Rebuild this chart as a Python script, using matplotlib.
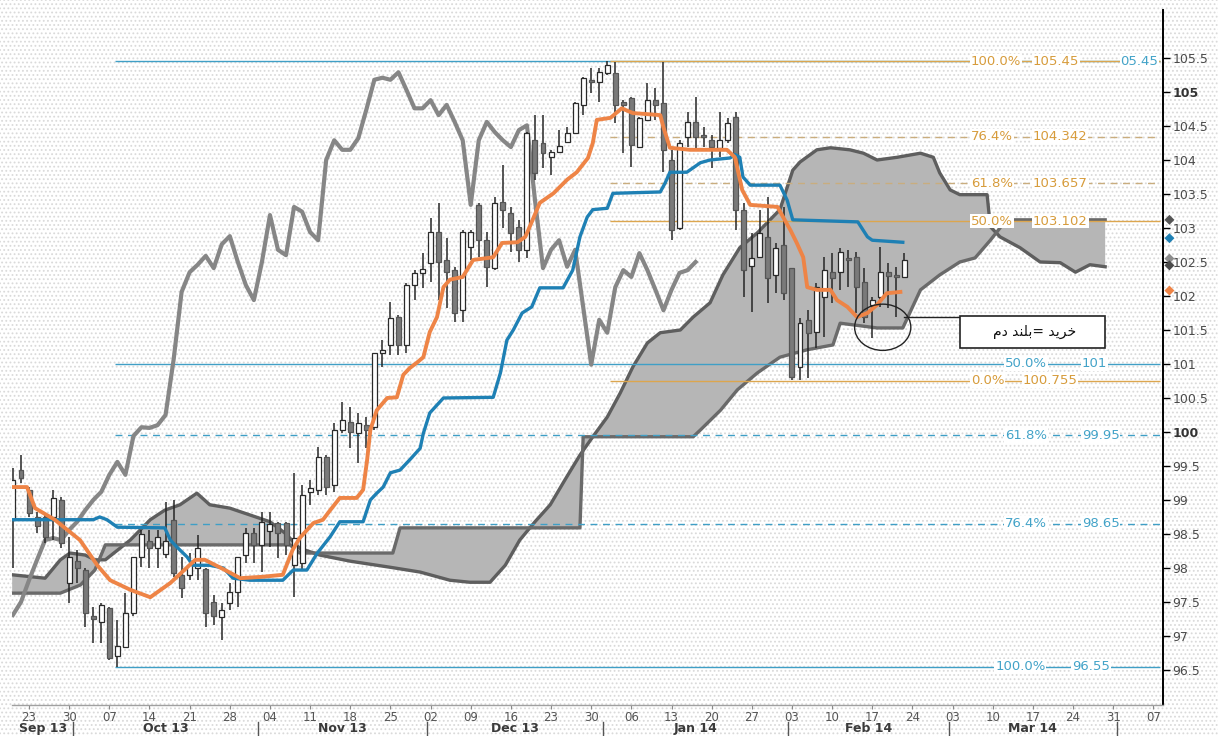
import numpy as np
import pandas as pd
import matplotlib
matplotlib.use("Agg")
import matplotlib.pyplot as plt
from matplotlib.patches import Rectangle, Ellipse

plt.rcParams["font.family"] = ["DejaVu Sans"]
plt.rcParams["hatch.linewidth"] = 0.8

# -----------------------------
# Data
# -----------------------------
days = pd.bdate_range("2013-09-19", "2014-04-11")   # trading days on the axis
pos = np.arange(len(days)) - 2                       # 0 = Mon 23 Sep 2013

c_open = [98.70, 99.44, 99.15, 98.75, 98.75, 98.75, 99.00, 97.78, 98.10, 97.97,
          97.30, 97.21, 97.41, 96.71, 96.84, 97.34, 98.16, 98.40, 98.30, 98.20,
          98.71, 97.90, 97.90, 98.00, 97.99, 97.50, 97.28, 97.49, 97.65, 98.19,
          98.51, 98.34, 98.55, 98.66, 98.66, 98.04, 98.07, 99.12, 99.15, 99.63,
          99.22, 100.03, 100.15, 99.99, 100.10, 100.07, 101.16, 101.28, 101.69, 101.28,
          102.16, 102.34, 102.49, 102.94, 102.53, 102.38, 101.79, 102.72, 103.34, 102.82,
          102.41, 103.38, 103.22, 103.01, 102.68, 104.29, 104.25, 104.04, 104.12, 104.26,
          104.40, 104.81, 105.18, 105.15, 105.28, 105.28, 104.85, 104.91, 104.19, 104.59,
          104.88, 104.84, 104.00, 103.00, 104.34, 104.56, 104.37, 104.29, 104.18, 104.29,
          104.63, 103.26, 102.44, 102.57, 102.87, 102.31, 102.75, 102.41, 100.96, 101.65,
          101.47, 101.99, 102.35, 102.35, 102.55, 102.57, 102.20, 101.87, 101.99, 102.35,
          102.30, 102.28]
c_high = [99.47, 99.66, 99.19, 98.82, 98.81, 99.15, 99.05, 98.46, 98.27, 98.00,
          97.43, 97.49, 97.43, 97.24, 97.63, 98.16, 98.56, 98.56, 98.56, 98.97,
          99.00, 98.16, 98.22, 98.49, 98.00, 97.60, 97.49, 97.78, 98.16, 98.59,
          98.59, 98.82, 98.82, 98.68, 98.68, 99.40, 99.22, 99.29, 99.78, 99.66,
          100.13, 100.44, 100.37, 100.28, 100.22, 101.16, 101.35, 101.91, 101.72, 102.19,
          102.38, 102.63, 103.15, 103.37, 102.85, 102.43, 102.97, 102.97, 103.37, 102.94,
          103.46, 103.93, 103.31, 103.12, 104.41, 104.66, 104.66, 104.15, 104.44, 104.49,
          104.85, 105.22, 105.35, 105.35, 105.45, 105.44, 104.88, 104.93, 104.63, 105.13,
          105.06, 105.44, 104.15, 104.29, 104.71, 104.93, 104.49, 104.37, 104.71, 104.62,
          104.71, 103.37, 102.93, 103.26, 103.46, 102.78, 103.31, 102.41, 101.68, 101.79,
          102.19, 102.57, 102.63, 102.71, 102.68, 102.65, 102.41, 101.99, 102.72, 102.49,
          102.43, 102.63]
c_low = [98.00, 99.25, 98.75, 98.51, 98.37, 98.41, 98.30, 97.49, 97.78, 97.13,
         96.90, 96.90, 96.65, 96.55, 96.82, 97.30, 98.01, 98.00, 98.00, 98.15,
         97.87, 97.56, 97.82, 97.82, 97.13, 97.16, 96.94, 97.38, 97.43, 98.07,
         98.07, 97.94, 98.31, 98.15, 98.19, 97.57, 97.99, 98.93, 99.07, 99.07,
         99.12, 99.99, 99.76, 99.54, 99.76, 100.03, 100.96, 101.13, 101.13, 101.16,
         101.94, 102.12, 102.21, 101.94, 101.82, 101.62, 101.62, 102.53, 102.57, 102.13,
         102.38, 103.00, 102.65, 102.50, 102.56, 103.71, 103.88, 103.78, 104.12, 104.25,
         104.40, 104.66, 104.99, 104.85, 105.25, 104.54, 104.10, 103.90, 104.18, 104.59,
         104.59, 103.82, 102.82, 102.97, 104.19, 104.18, 104.19, 103.88, 104.04, 104.25,
         102.97, 101.99, 101.76, 102.57, 101.90, 102.04, 101.94, 100.76, 100.76, 100.79,
         101.24, 101.40, 101.90, 102.09, 102.13, 101.75, 101.60, 101.38, 101.84, 101.82,
         101.69, 102.26]
c_close = [99.30, 99.32, 98.81, 98.62, 98.46, 99.03, 98.37, 98.16, 98.00, 97.34,
           97.25, 97.46, 96.68, 96.85, 97.34, 98.16, 98.50, 98.30, 98.45, 98.40,
           97.93, 97.70, 98.05, 98.30, 97.34, 97.30, 97.38, 97.65, 98.16, 98.51,
           98.34, 98.68, 98.65, 98.51, 98.34, 98.44, 99.07, 99.18, 99.63, 99.19,
           100.03, 100.18, 100.00, 100.13, 100.03, 101.16, 101.20, 101.68, 101.28, 102.16,
           102.34, 102.40, 102.94, 102.50, 102.35, 101.75, 102.94, 102.94, 102.82, 102.43,
           103.37, 103.26, 102.93, 102.68, 104.40, 103.81, 104.10, 104.12, 104.20, 104.40,
           104.84, 105.21, 105.15, 105.29, 105.40, 104.81, 104.81, 104.22, 104.62, 104.88,
           104.81, 104.15, 102.97, 104.25, 104.56, 104.34, 104.34, 104.19, 104.29, 104.54,
           103.26, 102.38, 102.56, 102.93, 102.26, 102.71, 102.04, 100.81, 101.60, 101.46,
           102.13, 102.38, 102.26, 102.65, 102.53, 102.13, 101.69, 101.94, 102.35, 102.30,
           102.28, 102.53]

# lagging span (gray), starts at the first trading day on the axis
chikou = [97.31, 97.50, 97.82, 98.12, 98.41, 98.44, 98.41, 98.56, 98.68, 98.85,
          99.00, 99.12, 99.37, 99.56, 99.37, 99.94, 100.07, 100.06, 100.10, 100.25,
          101.06, 102.06, 102.35, 102.46, 102.59, 102.41, 102.76, 102.88, 102.50, 102.16,
          101.94, 102.50, 103.19, 102.68, 102.60, 103.31, 103.24, 102.94, 102.82, 104.00,
          104.29, 104.15, 104.15, 104.32, 104.74, 105.18, 105.21, 105.18, 105.29, 105.03,
          104.76, 104.76, 104.88, 104.66, 104.81, 104.56, 104.29, 103.34, 104.29, 104.56,
          104.41, 104.29, 104.19, 104.44, 104.51, 103.41, 102.41, 102.68, 102.82, 102.43,
          102.68, 101.84, 100.99, 101.65, 101.46, 102.13, 102.38, 102.28, 102.63, 102.38,
          102.09, 101.79, 102.09, 102.34, 102.38, 102.50]

# conversion line (orange), vertices as (day position, value)
tenkan_x = [-2.1, -0.25, 0.75, 3.2, 6.35, 8.5, 10.1, 12.6, 15.1, 17.6,
            20.7, 21.9, 24.4, 26.3, 29.0, 31.6, 32.8, 33.7, 35.4, 36.6,
            37.5, 38.7, 40.8, 41.6, 42.1, 42.5, 43.3, 44.6, 45.8, 46.6,
            47.4, 48.3, 49.1, 49.9, 50.8, 51.6, 52.4, 54.0, 55.3, 57.8,
            58.9, 60.8, 61.8, 62.6, 63.6, 65.3, 67.0, 68.2, 69.6, 70.2,
            70.7, 72.4, 73.8, 75.2, 78.6, 79.0, 79.8, 82.3, 86.9, 87.9,
            88.8, 89.8, 93.2, 93.9, 94.8, 95.6, 96.4, 96.9, 98.1, 99.8,
            100.6, 101.9, 103.1, 104.4, 105.6, 106.8, 108.5]
tenkan_y = [99.19, 99.19, 98.88, 98.71, 98.41, 98.04, 97.82, 97.68, 97.57, 97.78,
            98.12, 98.12, 97.97, 97.85, 97.87, 97.90, 98.26, 98.44, 98.66, 98.71,
            98.85, 99.03, 99.03, 99.15, 99.59, 100.03, 100.32, 100.50, 100.51, 100.84,
            100.94, 101.02, 101.10, 101.47, 101.69, 102.13, 102.24, 102.28, 102.53, 102.57,
            102.78, 102.79, 102.87, 103.09, 103.37, 103.51, 103.71, 103.82, 104.03, 104.25,
            104.59, 104.62, 104.76, 104.69, 104.66, 104.48, 104.18, 104.15, 104.15, 104.04,
            103.56, 103.34, 103.31, 103.16, 102.97, 102.78, 102.57, 102.13, 102.09, 102.09,
            101.94, 101.84, 101.69, 101.75, 101.87, 102.04, 102.06]

# base line (blue)
kijun_x = [-2.1, 8.0, 8.8, 9.7, 11.0, 16.9, 17.6, 18.4, 19.7, 20.4,
           22.5, 24.2, 25.4, 27.5, 31.6, 32.9, 34.6, 35.9, 37.5, 38.7,
           41.6, 42.5, 43.3, 44.1, 45.0, 46.2, 47.4, 48.7, 49.1, 49.9,
           51.6, 57.8, 58.7, 59.5, 60.3, 61.4, 62.6, 63.6, 66.5, 67.7,
           68.6, 69.5, 70.2, 72.0, 72.7, 78.6, 79.2, 79.8, 81.9, 83.6,
           84.8, 87.3, 87.9, 88.5, 88.9, 89.8, 93.5, 94.4, 95.1, 103.2,
           104.4, 105.0, 108.8]
kijun_y = [98.71, 98.71, 98.75, 98.71, 98.60, 98.59, 98.41, 98.31, 98.16, 98.04,
           98.04, 98.00, 97.85, 97.82, 97.82, 97.97, 97.97, 98.22, 98.46, 98.68,
           98.68, 99.00, 99.10, 99.19, 99.40, 99.44, 99.59, 99.76, 99.98, 100.28,
           100.50, 100.51, 100.87, 101.35, 101.50, 101.75, 101.84, 102.12, 102.12, 102.38,
           102.87, 103.16, 103.27, 103.29, 103.51, 103.53, 103.66, 103.82, 103.82, 103.96,
           104.00, 104.03, 104.08, 104.04, 103.75, 103.63, 103.63, 103.41, 103.12, 103.09,
           102.87, 102.82, 102.79]

# leading spans (cloud edges)
spanA_x = [-2.1, 2.0, 3.9, 5.1, 7.0, 8.2, 9.5, 12.6, 15.1, 16.9,
           18.8, 20.9, 22.5, 25.0, 27.5, 30.0, 31.9, 33.7, 36.2, 40.0,
           45.0, 48.7, 52.4, 54.9, 57.4, 59.3, 61.1, 63.0, 64.9, 66.7,
           68.6, 70.2, 72.0, 73.6, 75.2, 77.0, 78.6, 81.1, 82.7, 84.8,
           86.4, 88.5, 90.7, 93.5, 95.1, 96.0, 98.1, 99.8, 102.2, 103.9,
           105.6, 108.1, 111.0, 112.6, 113.4, 114.7, 115.9, 119.3, 119.7, 120.9,
           123.4, 125.9, 128.4, 130.3, 132.1, 134.0]
spanA_y = [97.90, 97.85, 98.12, 98.22, 98.19, 98.12, 98.12, 98.41, 98.71, 98.85,
           98.93, 99.10, 98.93, 98.88, 98.78, 98.68, 98.51, 98.29, 98.19, 98.10,
           98.01, 97.94, 97.82, 97.79, 97.79, 98.04, 98.41, 98.68, 98.93, 99.29,
           99.66, 99.93, 100.22, 100.57, 100.96, 101.31, 101.46, 101.50, 101.69, 101.90,
           102.31, 102.71, 102.93, 103.27, 103.85, 103.97, 104.15, 104.18, 104.15, 104.10,
           104.00, 104.04, 104.10, 104.04, 103.81, 103.56, 103.49, 103.49, 103.02, 102.87,
           102.71, 102.50, 102.49, 102.35, 102.46, 102.43]
spanB_x = [-2.1, 3.9, 6.4, 8.2, 9.5, 32.5, 33.7, 45.3, 46.2, 68.6,
           69.0, 82.7, 83.6, 86.1, 88.2, 90.7, 93.5, 96.9, 100.1, 101.0,
           105.6, 108.8, 111.0, 113.4, 115.9, 117.8, 119.7, 120.9, 121.5, 134.0]
spanB_y = [97.63, 97.63, 97.75, 97.97, 98.34, 98.34, 98.22, 98.22, 98.59, 98.59,
           99.93, 99.93, 100.03, 100.32, 100.62, 100.87, 101.10, 101.21, 101.28, 101.60,
           101.53, 101.53, 102.09, 102.31, 102.50, 102.56, 102.82, 103.00, 103.12, 103.12]

# Fibonacci retracements
fib_blue_pct = ["100.0%", "76.4%", "61.8%", "50.0%"]
fib_blue_txt = ["96.55", "98.65", "99.95", "101"]
fib_blue_val = [96.55, 98.65, 99.95, 101.0]
fib_blue_dash = [False, True, True, False]
fib_blue_top = 105.45
fib_blue_top_txt = "05.45"          # the visible tail of the covered blue label
fib_or_pct = ["100.0%", "76.4%", "61.8%", "50.0%", "0.0%"]
fib_or_txt = ["105.45", "104.342", "103.657", "103.102", "100.755"]
fib_or_val = [105.45, 104.342, 103.657, 103.102, 100.755]
fib_or_dash = [False, True, True, False, False]

# last-value markers on the price scale
last_vals = [103.12, 102.85, 102.55, 102.45, 102.08]
last_cols = ["#555555", "#1e80b4", "#8c8c8c", "#4a4a4a", "#ee8446"]

# note text (Persian words, in the order they stand in the picture)
note = "\uFEE1\uFEA9 \uFEAA\uFEE8\uFEE0\uFE91= \uFEAA\uFEF3\uFEAE\uFEA7"

# -----------------------------
# Styling
# -----------------------------
orange = "#ee8446"
blue = "#1e80b4"
fib_blue_c = "#3f9fc6"
fib_or_c = "#dca64e"
fib_or_dash_c = "#c9ad7e"
text_blue = "#43a3c8"
text_or = "#d79c3c"

fig = plt.figure(figsize=(12.18, 7.36), dpi=100)
fig.patches.append(Rectangle((0, 0), 1, 1, transform=fig.transFigure,
                             facecolor="white", edgecolor="#dadada",
                             hatch="....", linewidth=0, zorder=-10))
ax = fig.add_axes([12 / 1218, 31 / 736, 1151 / 1218, 695 / 736])
ax.set_facecolor("none")
ax.set_xlim(-2.12, 141.2)
ax.set_ylim(95.985, 106.206)

# cloud
cloud_x = np.concatenate([spanA_x, spanB_x[::-1]])
cloud_y = np.concatenate([spanA_y, spanB_y[::-1]])
ax.fill(cloud_x, cloud_y, facecolor="#b6b6b6", edgecolor="none", zorder=1)
ax.plot(spanA_x, spanA_y, color="#5e5e5e", lw=2.4, zorder=2)
ax.plot(spanB_x, spanB_y, color="#6a6a6a", lw=2.4, zorder=2)

# fibonacci lines
x_blue0, x_or0, x_end = 10.7, 72.4, 140.8
ax.hlines(fib_blue_top, x_blue0, x_end, color=fib_blue_c, lw=1.0, zorder=3)
for v, d in zip(fib_blue_val, fib_blue_dash):
    ax.hlines(v, x_blue0, x_end, color=fib_blue_c, lw=1.0, zorder=3,
              linestyles=(0, (5, 4)) if d else "solid")
for v, d in zip(fib_or_val, fib_or_dash):
    ax.hlines(v, x_or0, x_end, color=fib_or_dash_c if d else fib_or_c, lw=1.0,
              zorder=3, linestyles=(0, (5, 4)) if d else "solid")

box = dict(facecolor="white", edgecolor="none", pad=0.6)
ax.text(140.6, fib_blue_top, fib_blue_top_txt, color=text_blue, fontsize=9.5,
        ha="right", va="center", bbox=box, zorder=9)
for i, (p, t, v) in enumerate(zip(fib_blue_pct, fib_blue_txt, fib_blue_val)):
    x0 = 120.3 if i == 0 else 121.5
    ax.text(x0, v, p, color=text_blue, fontsize=9.5, ha="left", va="center",
            bbox=box, zorder=9)
    ax.text(x0 + 9.6, v, t, color=text_blue, fontsize=9.5, ha="left",
            va="center", bbox=box, zorder=9)
for p, t, v in zip(fib_or_pct, fib_or_txt, fib_or_val):
    ax.text(117.3, v, p, color=text_or, fontsize=9.5, ha="left", va="center",
            bbox=box, zorder=10)
    ax.text(123.7 if p == "0.0%" else 125.0, v, t, color=text_or, fontsize=9.5,
            ha="left", va="center", bbox=box, zorder=10)

# lagging span
ax.plot(pos[:len(chikou)], chikou, color="#868686", lw=3.0, zorder=4,
        solid_joinstyle="round")

# candles
o = np.array(c_open)
h = np.array(c_high)
l = np.array(c_low)
c = np.array(c_close)
cx = pos[:len(o)]
up = c >= o
ax.vlines(cx, l, h, color="#262626", lw=1.1, zorder=5)
ax.bar(cx, np.maximum(np.abs(c - o), 0.03), bottom=np.minimum(o, c), width=0.62,
       color=np.where(up, "white", "#7a7a7a"),
       edgecolor=np.where(up, "#2a2a2a", "#555555"), linewidth=0.9, zorder=6)

# base and conversion lines
ax.plot(kijun_x, kijun_y, color=blue, lw=2.4, zorder=7, solid_joinstyle="round")
ax.plot(tenkan_x, tenkan_y, color=orange, lw=2.8, zorder=8, solid_joinstyle="round")

# note
ax.add_patch(Ellipse((106.3, 101.54), 7.0, 0.68, fill=False, edgecolor="#222222",
                     lw=1.0, zorder=11))
ax.plot([108.9, 115.9], [101.69, 101.69], color="#222222", lw=1.0, zorder=11)
ax.add_patch(Rectangle((115.9, 101.24), 18.1, 0.46, facecolor="white",
                       edgecolor="#222222", lw=1.2, zorder=11))
ax.text(125.2, 101.47, note, ha="center", va="center", fontsize=10,
        color="#111111", zorder=12)

# right price scale
ax.yaxis.tick_right()
yt = np.arange(96.5, 105.51, 0.5)
ax.set_yticks(yt)
ax.set_yticklabels([f"{v:g}" for v in yt])
ax.tick_params(axis="y", direction="out", length=5, width=1, color="black",
               labelsize=9, labelcolor="#4a4a4a", pad=2)
for v, lab in zip(yt, ax.get_yticklabels()):
    if v in (100, 105):
        lab.set_fontweight("bold")
        lab.set_color("#333333")
ax.scatter([142.0] * len(last_vals), last_vals, marker="D", s=26, c=last_cols,
           clip_on=False, zorder=13, linewidths=0)

# date axis: weeks and months
mondays = [p for p, d in zip(pos, days) if d.weekday() == 0]
ax.set_xticks(mondays)
ax.set_xticklabels([d.strftime("%d") for d in days if d.weekday() == 0])
ax.tick_params(axis="x", direction="out", length=3, color="#888888",
               labelsize=8.5, labelcolor="#555555", pad=1)

bounds = [pos[i] - 0.5 for i in range(1, len(days)) if days[i].month != days[i - 1].month]
edges = [ax.get_xlim()[0]] + bounds
month_names = [days[0].strftime("%b %y")] + [days[i].strftime("%b %y") for i in range(1, len(days))
                                             if days[i].month != days[i - 1].month]
trans = ax.get_xaxis_transform()
for b in bounds:
    ax.plot([b, b], [-0.025, -0.045], transform=trans, color="#555555", lw=1.0,
            clip_on=False)
for i in range(len(edges) - 1):
    ax.text((edges[i] + edges[i + 1]) / 2, -0.0335, month_names[i], transform=trans,
            ha="center", va="center", fontsize=9, fontweight="bold",
            color="#3a3a3a")

for side in ("left", "top"):
    ax.spines[side].set_visible(False)
ax.spines["right"].set_color("black")
ax.spines["right"].set_linewidth(1.4)
ax.spines["bottom"].set_color("#a0a0a0")
ax.spines["bottom"].set_linewidth(1.0)

plt.savefig("out.png", dpi=100)
